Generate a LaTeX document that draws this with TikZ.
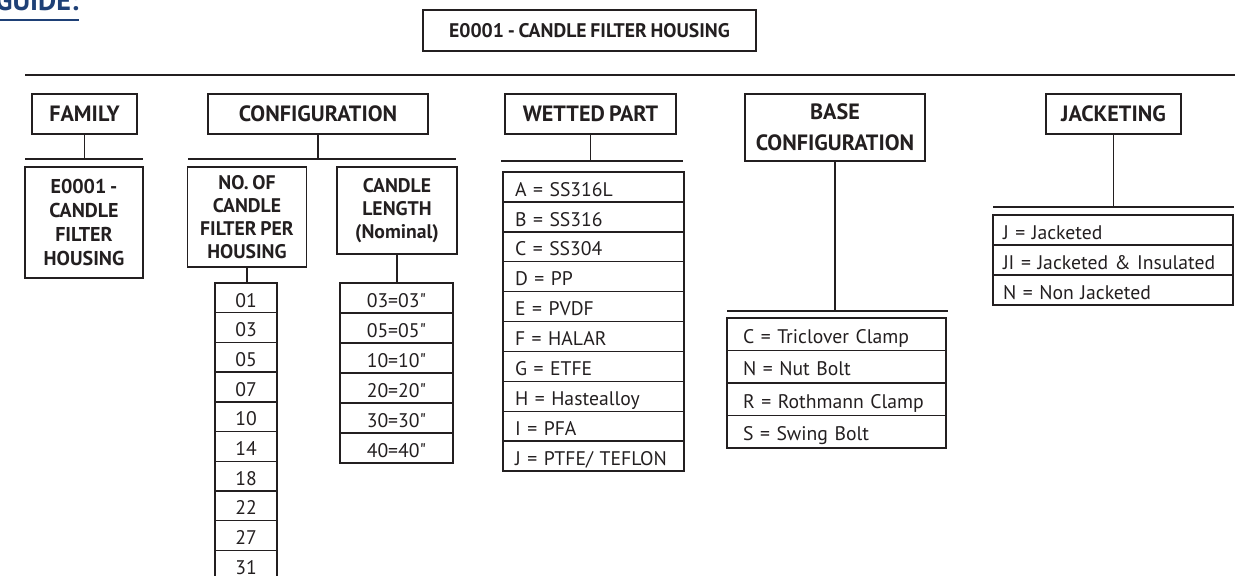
\documentclass[tikz,border=0pt]{standalone}
\usepackage{fontspec}
\setmainfont{PT Sans}[Ligatures=TeXOff, WordSpace=0.75]
\definecolor{ink}{RGB}{35,31,32}
\definecolor{guideblue}{RGB}{30,64,118}

\begin{document}
\begin{tikzpicture}[x=0.02cm, y=-0.02cm,
  rule/.style={draw=ink, line width=1.1pt},
  link/.style={draw=ink, line width=0.8pt},
  headbox/.style={draw=ink, line width=0.8pt, outer sep=0pt, inner sep=0pt, text=ink, align=center, font=\bfseries\fontsize{12.6}{17.6}\selectfont},
  subbox/.style={draw=ink, line width=0.8pt, outer sep=0pt, inner sep=0pt, text=ink, align=center, font=\bfseries\fontsize{11.2}{13}\selectfont},
  cell/.style={draw=ink, line width=0.8pt, outer sep=0pt, inner ysep=0pt, text=ink, text height=10.5pt, text depth=0pt, font=\fontsize{11.2}{13}\selectfont},
]
\def\px{0.02cm}

% Fix the page and cut what runs over the edge
\useasboundingbox (0,0) rectangle (1239,575);
\clip (0,0) rectangle (1239,575);

% Title and guide
\node[font=\bfseries\fontsize{16}{18}\selectfont, text=guideblue, anchor=base east, inner sep=0pt] (guide) at (79,10) {GUIDE:};
\coordinate (guideL) at (0,20);
\draw[guideblue, line width=1.2pt] (guideL) -- (guideL -| guide.east);
\node[draw=ink, line width=0.8pt, inner sep=0pt, text=ink, font=\bfseries\fontsize{11.2}{13}\selectfont, minimum width=333*\px, minimum height=41*\px] (title) at (589.5,30.5) {E0001 - CANDLE FILTER HOUSING};
\coordinate (topL) at (25,75);
\coordinate (topR) at (1235,75);
\draw[rule] (topL) -- (topR);

% Family
\node[headbox, minimum width=105*\px, minimum height=40*\px] (family) at (84.5,114) {FAMILY};
\coordinate (famL) at (25,159);
\coordinate (famR) at (143,159);
\draw[rule] (famL) -- (famR);
\draw[link] (family.south) -- (family.south |- famL);
\node[subbox, line width=1.1pt, font=\bfseries\fontsize{11.4}{13.8}\selectfont, minimum width=118*\px, minimum height=111*\px] (famcode) at (84,222.5) {E0001 -\\CANDLE\\FILTER\\HOUSING};

% Configuration
\node[headbox, minimum width=220*\px, minimum height=40*\px] (config) at (318,114) {CONFIGURATION};
\coordinate (cfgL) at (188,159);
\coordinate (cfgR) at (456,159);
\draw[rule] (cfgL) -- (cfgR);
\draw[link] (config.south) -- (config.south |- cfgL);
\node[subbox, minimum width=119*\px, minimum height=100*\px] (count) at (247,217) {NO. OF\\CANDLE\\FILTER PER\\HOUSING};
\node[subbox, minimum width=120*\px, minimum height=87*\px] (length) at (397,210.5) {CANDLE\\LENGTH\\(Nominal)};
\foreach \t [count=\i] in {01,03,05,07,10,14,18,22,27,31}
  \node[cell, align=center, text width=50*\px, inner xsep=6*\px, minimum width=62*\px, minimum height=29.7*\px] (n\i) at (246,{283+29.7*(\i-0.5)}) {\t};
\foreach \t [count=\i] in {03=03",05=05",10=10",20=20",30=30",40=40"}
  \node[cell, align=center, text width=101*\px, inner xsep=6*\px, minimum width=113*\px, minimum height=30*\px] (l\i) at (396.5,{283+30*(\i-0.5)}) {\t};
\draw[link] (count.south) -- (count.south |- n1.north);
\draw[link] (length.south) -- (length.south |- l1.north);

% Wetted part
\node[headbox, minimum width=171*\px, minimum height=40*\px] (wetted) at (590.5,114) {WETTED PART};
\coordinate (wetL) at (501,161);
\coordinate (wetR) at (683,161);
\draw[rule] (wetL) -- (wetR);
\draw[link] (wetted.south) -- (wetted.south |- wetL);
\foreach \t [count=\i] in {A = SS316L,B = SS316,C = SS304,D = PP,E = PVDF,F = HALAR,G = ETFE,H = Hastealloy,I = PFA,J = PTFE/ TEFLON}
  \node[cell, align=left, text width=157*\px, inner xsep=12*\px, minimum width=181*\px, minimum height=29.9*\px] (w\i) at (593.5,{172+29.9*(\i-0.5)}) {\mbox{\t}};

% Base configuration
\node[headbox, minimum width=180*\px, minimum height=67*\px] (base) at (835,127.5) {BASE\\CONFIGURATION};
\coordinate (baseL) at (727,311);
\coordinate (baseR) at (948,311);
\draw[rule] (baseL) -- (baseR);
\draw[link] (base.south) -- (base.south |- baseL);
\foreach \t [count=\i] in {C = Triclover Clamp,N = Nut Bolt,R = Rothmann Clamp,S = Swing Bolt}
  \node[cell, align=left, text width=187*\px, inner xsep=16*\px, minimum width=219*\px, minimum height=32.5*\px] (b\i) at (836.5,{318+32.5*(\i-0.5)}) {\mbox{\t}};

% Jacketing
\node[headbox, minimum width=135*\px, minimum height=40*\px] (jacket) at (1113.5,114) {JACKETING};
\coordinate (jackL) at (993,207);
\coordinate (jackR) at (1234,207);
\draw[rule] (jackL) -- (jackR);
\draw[link] (jacket.south) -- (jacket.south |- jackL);
\foreach \t [count=\i] in {J = Jacketed,JI = Jacketed \& Insulated,N = Non Jacketed}
  \node[cell, align=left, text width=220*\px, inner xsep=10*\px, minimum width=240*\px, minimum height=30*\px] (j\i) at (1113,{215+30*(\i-0.5)}) {\mbox{\t}};
\end{tikzpicture}
\end{document}
